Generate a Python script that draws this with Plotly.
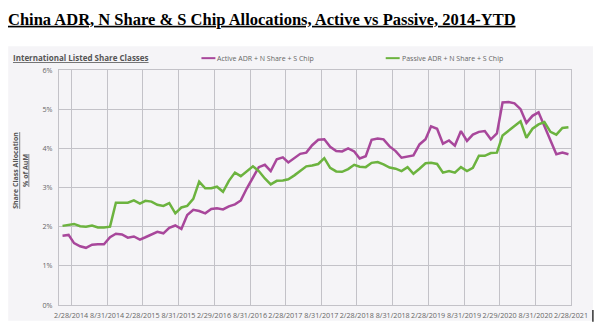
import plotly.graph_objects as go
import pandas as pd

# ---- data (monthly, Jan 2014 - Feb 2021) ----
dates = [d.strftime("%Y-%m-%d") for d in (pd.date_range("2014-01-01", periods=86, freq="MS") + pd.Timedelta(days=14))]

active = [1.77, 1.79, 1.58, 1.50, 1.46, 1.54, 1.55, 1.55, 1.73, 1.82,
          1.80, 1.72, 1.75, 1.67, 1.73, 1.80, 1.87, 1.83, 1.97, 2.03,
          1.94, 2.30, 2.43, 2.40, 2.34, 2.45, 2.47, 2.44, 2.52, 2.57,
          2.67, 2.98, 3.25, 3.52, 3.58, 3.42, 3.72, 3.77, 3.64, 3.75,
          3.86, 3.89, 4.08, 4.22, 4.23, 4.04, 3.93, 3.92, 4.00, 3.92,
          3.74, 3.80, 4.22, 4.25, 4.23, 4.05, 3.93, 3.76, 3.80, 3.82,
          4.10, 4.23, 4.56, 4.50, 4.12, 4.20, 4.07, 4.44, 4.19, 4.35,
          4.42, 4.44, 4.23, 4.38, 5.17, 5.18, 5.15, 5.00, 4.65, 4.83,
          4.92, 4.57, 4.21, 3.85, 3.89, 3.85]

passive = [2.02, 2.05, 2.07, 2.01, 2.00, 2.03, 1.98, 1.98, 2.00, 2.61,
           2.61, 2.61, 2.67, 2.59, 2.66, 2.64, 2.56, 2.53, 2.60, 2.34,
           2.49, 2.53, 2.71, 3.15, 2.98, 2.98, 3.02, 2.89, 3.17, 3.38,
           3.29, 3.42, 3.54, 3.42, 3.23, 3.08, 3.17, 3.18, 3.21, 3.31,
           3.42, 3.54, 3.56, 3.60, 3.75, 3.50, 3.41, 3.40, 3.47, 3.58,
           3.53, 3.52, 3.63, 3.65, 3.59, 3.51, 3.48, 3.42, 3.52, 3.35,
           3.48, 3.62, 3.63, 3.60, 3.38, 3.42, 3.38, 3.52, 3.42, 3.50,
           3.81, 3.81, 3.88, 3.89, 4.33, 4.46, 4.57, 4.69, 4.27, 4.50,
           4.61, 4.67, 4.42, 4.35, 4.52, 4.54]

tick_dates = ["2014-02-28", "2014-08-31", "2015-02-28", "2015-08-31", "2016-02-29",
              "2016-08-31", "2017-02-28", "2017-08-31", "2018-02-28", "2018-08-31",
              "2019-02-28", "2019-08-31", "2020-02-29", "2020-08-31", "2021-02-28"]
tick_labels = ["2/28/2014", "8/31/2014", "2/28/2015", "8/31/2015", "2/29/2016",
               "8/31/2016", "2/28/2017", "8/31/2017", "2/28/2018", "8/31/2018",
               "2/28/2019", "8/31/2019", "2/29/2020", "8/31/2020", "2/28/2021"]
y_ticks = [0, 1, 2, 3, 4, 5, 6]
y_labels = ["0%", "1%", "2%", "3%", "4%", "5%", "6%"]

series_names = ["Active ADR + N Share + S Chip", "Passive ADR + N Share + S Chip"]
ACTIVE_C = "#a8479b"
PASSIVE_C = "#6cb33f"

W, H = 600, 332
L, R, T, B = 59, 27, 70, 24
pw, ph = W - L - R, H - T - B

def px(x):
    return (x - L) / pw

def py(y):
    return (H - B - y) / ph

fig = go.Figure()
fig.add_trace(go.Scatter(x=dates, y=active, mode="lines", name=series_names[0],
                         line=dict(color=ACTIVE_C, width=2.5), showlegend=False))
fig.add_trace(go.Scatter(x=dates, y=passive, mode="lines", name=series_names[1],
                         line=dict(color=PASSIVE_C, width=2.5), showlegend=False))

GRID = "#c3c2c8"
TXT = "#666666"
FONT = "Open Sans"

fig.update_xaxes(type="date", range=["2013-12-28", "2021-02-28"],
                 tickvals=tick_dates, ticktext=tick_labels, tickangle=0,
                 showgrid=True, gridcolor=GRID, gridwidth=1,
                 showline=True, linecolor=GRID, mirror=True, zeroline=False,
                 ticks="", ticklabelstandoff=3,
                 tickfont=dict(family=FONT, size=7.2, color=TXT))
fig.update_yaxes(range=[0, 6], tickvals=y_ticks, ticktext=y_labels,
                 showgrid=True, gridcolor=GRID, gridwidth=1,
                 showline=True, linecolor=GRID, mirror=True, zeroline=False,
                 ticks="", ticklabelstandoff=4,
                 tickfont=dict(family=FONT, size=7.2, color=TXT))

shapes = [
    # panel background
    dict(type="rect", xref="paper", yref="paper", layer="below",
         x0=px(8), x1=px(595), y0=py(324), y1=py(46),
         fillcolor="#f5f4f7", line=dict(width=0)),
    # legend swatches
    dict(type="line", xref="paper", yref="paper", x0=px(202), x1=px(216), y0=py(58), y1=py(58),
         line=dict(color=ACTIVE_C, width=2)),
    dict(type="line", xref="paper", yref="paper", x0=px(387), x1=px(401), y0=py(58), y1=py(58),
         line=dict(color=PASSIVE_C, width=2)),
    # stray cursor bar at right
    dict(type="line", xref="paper", yref="paper", x0=px(595), x1=px(595), y0=py(313), y1=py(325),
         line=dict(color="#000000", width=1.2)),
]

annotations = [
    dict(text="<b><u>International Listed Share Classes</u></b>", xref="paper", yref="paper",
         x=px(11), y=py(57), xanchor="left", yanchor="middle", showarrow=False,
         font=dict(family=FONT, size=8, color="#555555")),
    dict(text=series_names[0], xref="paper", yref="paper",
         x=px(216), y=py(58), xanchor="left", yanchor="middle", showarrow=False,
         font=dict(family=FONT, size=7, color=TXT)),
    dict(text=series_names[1], xref="paper", yref="paper",
         x=px(401), y=py(58), xanchor="left", yanchor="middle", showarrow=False,
         font=dict(family=FONT, size=7, color=TXT)),
    dict(text="<b><u>Share Class Allocation</u></b><br><b><u>% of AuM</u></b>", xref="paper", yref="paper",
         x=px(20), y=py(172), xanchor="center", yanchor="middle", showarrow=False,
         textangle=-90, font=dict(family=FONT, size=7, color="#555555")),
]

fig.update_layout(
    width=W, height=H, autosize=False,
    margin=dict(l=L, r=R, t=T, b=B),
    paper_bgcolor="#ffffff", plot_bgcolor="rgba(0,0,0,0)",
    title=dict(text="<b><u>China ADR, N Share &amp; S Chip Allocations, Active vs Passive, 2014-YTD</u></b>",
               xref="container", yref="container", x=8 / W, y=1 - 19 / H,
               xanchor="left", yanchor="middle",
               font=dict(family="Liberation Serif", size=16.5, color="#000000")),
    shapes=shapes, annotations=annotations, showlegend=False,
)

fig.write_html("out.html")
